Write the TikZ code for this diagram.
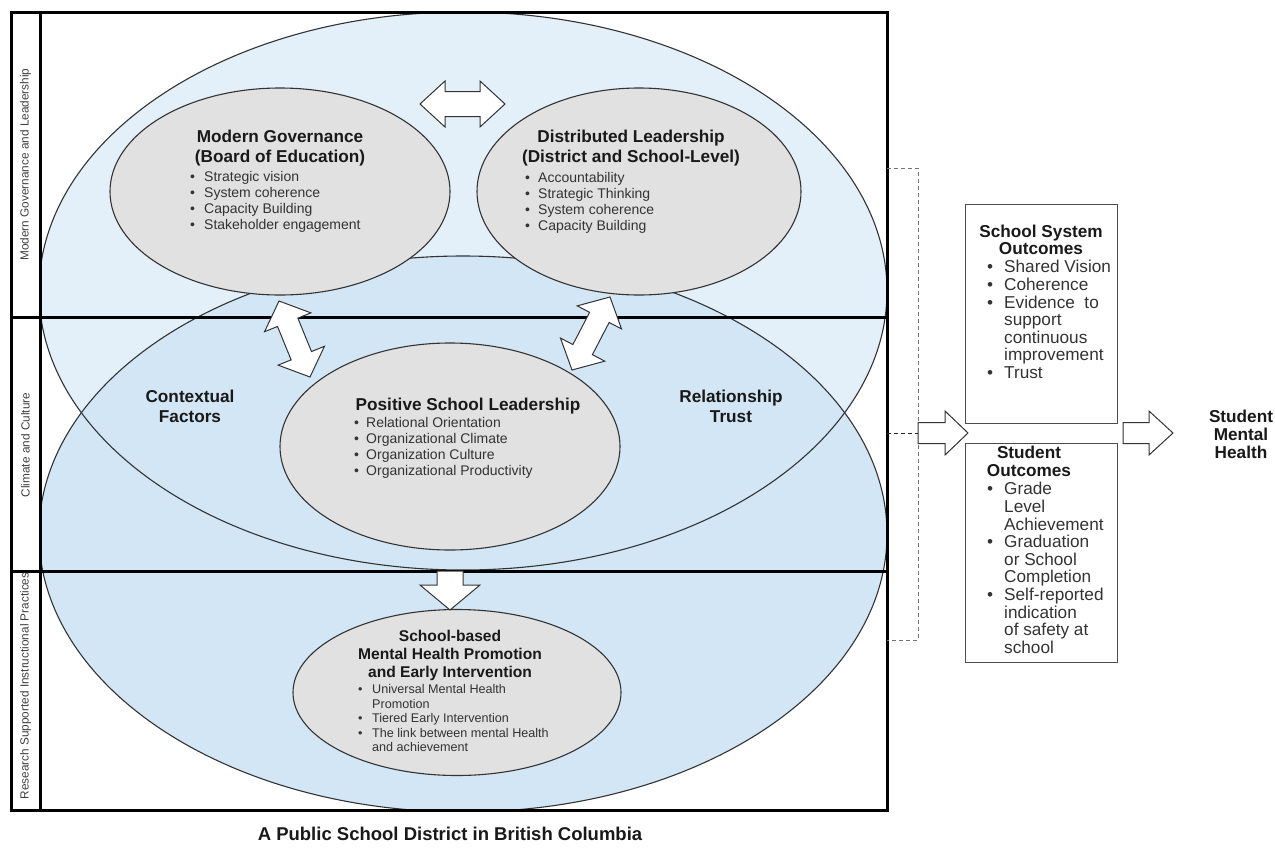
\documentclass[tikz,border=0pt]{standalone}
\usepackage{fontspec}
\setmainfont{Liberation Sans}
\usetikzlibrary{calc,shapes.geometric}
\definecolor{topblue}{HTML}{E3F0FA}
\definecolor{midblue}{HTML}{D3E6F5}
\definecolor{grayfill}{HTML}{E1E1E1}
\definecolor{edgegray}{HTML}{333333}
\definecolor{textgray}{HTML}{333333}
\newcommand\bi[1]{\makebox[#1][l]{\textbullet}}
\newcommand\dblarr[6]{%
 \coordinate (#1a) at (#2);
 \coordinate (#1b) at (#3);
 \coordinate (#1ha) at ($(#1a)!#4!(#1b)$);
 \coordinate (#1hb) at ($(#1b)!#4!(#1a)$);
 \draw[blockarrow] (#1a) -- ($(#1ha)!#6!90:(#1b)$) -- ($(#1ha)!#5!90:(#1b)$) -- ($(#1hb)!#5!-90:(#1a)$) -- ($(#1hb)!#6!-90:(#1a)$) -- (#1b) -- ($(#1hb)!#6!90:(#1a)$) -- ($(#1hb)!#5!90:(#1a)$) -- ($(#1ha)!#5!-90:(#1b)$) -- ($(#1ha)!#6!-90:(#1b)$) -- cycle;}
\newcommand\sglarr[6]{%
 \coordinate (#1a) at (#2);
 \coordinate (#1b) at (#3);
 \coordinate (#1hb) at ($(#1b)!#4!(#1a)$);
 \draw[blockarrow] ($(#1a)!#5!90:(#1b)$) -- ($(#1hb)!#5!-90:(#1a)$) -- ($(#1hb)!#6!-90:(#1a)$) -- (#1b) -- ($(#1hb)!#6!90:(#1a)$) -- ($(#1hb)!#5!90:(#1a)$) -- ($(#1a)!#5!-90:(#1b)$) -- cycle;}
\begin{document}
\begin{tikzpicture}[x=1pt,y=-1pt,
  bigedge/.style={draw=edgegray,line width=1.1pt},
  grayell/.style={ellipse,draw=edgegray,line width=1.1pt,fill=grayfill,inner sep=0pt},
  frameline/.style={line width=3pt,draw=black},
  blockarrow/.style={draw=edgegray,fill=white,line width=1pt,line join=miter},
  ttl/.style={font=\bfseries\fontsize{17.2}{20}\selectfont,align=center,inner sep=0pt,text=black!90},
  ttlb/.style={font=\bfseries\fontsize{17.2}{17.6}\selectfont,align=center,inner sep=0pt,text=black!90},
  bul/.style={font=\fontsize{14}{16}\selectfont,align=left,inner sep=0pt,text=textgray},
  bulsm/.style={font=\fontsize{12.6}{14.5}\selectfont,align=left,inner sep=0pt,text=textgray},
  bulbig/.style={font=\fontsize{17.2}{17.6}\selectfont,align=left,inner sep=0pt,text=textgray},
  sidelab/.style={font=\fontsize{11.8}{14}\selectfont,inner sep=0pt,text=black!75,rotate=90},
  outbox/.style={draw=black!70,line width=1pt,fill=white,inner sep=0pt},
  dashgray/.style={draw=black!55,dashed,dash pattern=on 4pt off 3pt,line width=0.8pt},
  dashdark/.style={draw=black!85,dashed,dash pattern=on 4pt off 3pt,line width=0.8pt}]
\useasboundingbox (0,0) rectangle (1275,852);
\fill[white] (0,0) rectangle (1275,852);
% large background ellipses
\begin{scope}
\clip (40,12) rectangle (887,810);
\fill[topblue] (463,291) ellipse [x radius=424pt, y radius=279pt];
\fill[midblue] (463,534) ellipse [x radius=424pt, y radius=278pt];
\draw[bigedge] (463,291) ellipse [x radius=424pt, y radius=279pt];
\draw[bigedge] (463,534) ellipse [x radius=424pt, y radius=278pt];
\end{scope}
% frame
\draw[frameline] (11,12) rectangle (887,810);
\draw[frameline] (40,12) -- (40,810);
\draw[frameline] (11,317) -- (887,317);
\draw[frameline] (11,571) -- (887,571);
% side labels
\node[sidelab] (lab1) at (25.5,164.5) {Modern Governance and Leadership};
\node[sidelab] (lab2) at (25.5,445) {Climate and Culture};
\node[sidelab] (lab3) at (25.5,686) {Research Supported Instructional Practices};
% gray ellipses
\node[grayell,minimum width=340pt,minimum height=207pt] (mg) at (280,191.5) {};
\node[grayell,minimum width=324pt,minimum height=207pt] (dl) at (639,191.5) {};
\node[grayell,minimum width=340pt,minimum height=207pt] (psl) at (450,446.5) {};
\node[grayell,minimum width=328pt,minimum height=166pt] (sb) at (457,692.5) {};
% texts in ellipses
\node[ttl] (mgt) at (280,148) {Modern Governance\\(Board of Education)};
\node[bul,anchor=west] (mgb) at (190,201.5) {\bi{14pt}Strategic vision\\\bi{14pt}System coherence\\\bi{14pt}Capacity Building\\\bi{14pt}Stakeholder engagement};
\node[ttl] (dlt) at (631,148) {Distributed Leadership\\(District and School-Level)};
\node[bul,anchor=west] (dlb) at (525,202.5) {\bi{13pt}Accountability\\\bi{13pt}Strategic Thinking\\\bi{13pt}System coherence\\\bi{13pt}Capacity Building};
\node[ttl] (pslt) at (468,406) {Positive School Leadership};
\node[bul,anchor=west] (pslb) at (354,448) {\bi{12pt}Relational Orientation\\\bi{12pt}Organizational Climate\\\bi{12pt}Organization Culture\\\bi{12pt}Organizational Productivity};
\node[font=\bfseries\fontsize{15.6}{18}\selectfont,align=center,inner sep=0pt,text=black!90] (sbt) at (450,655) {School-based\\Mental Health Promotion\\and Early Intervention};
\node[bulsm,anchor=west] (sbb) at (358,718) {\bi{14pt}Universal Mental Health\\\hspace*{14pt}Promotion\\\bi{14pt}Tiered Early Intervention\\\bi{14pt}The link between mental Health\\\hspace*{14pt}and achievement};
\node[ttl,font=\bfseries\fontsize{17.2}{19.5}\selectfont] (ctx) at (190,406.5) {Contextual\\Factors};
\node[ttl,font=\bfseries\fontsize{17.2}{19.5}\selectfont] (rt) at (731,406.5) {Relationship\\Trust};
% block arrows
\dblarr{ha}{420,104}{505,104}{25pt}{12.5pt}{23pt}
\dblarr{la}{279,301}{310,377}{23pt}{11pt}{25pt}
\dblarr{ra}{610,297}{572,370}{23pt}{11pt}{25pt}
\sglarr{da}{450,571}{450,610}{25pt}{13pt}{30pt}
% right side
\coordinate (brt) at (887,168);
\coordinate (brb) at (887,640);
\coordinate (brm) at (887,433);
\draw[dashgray] (brt) -- (918,168) -- (918,640) -- (brb);
\draw[dashdark] (brm) -- (918,433);
\node[outbox,minimum width=152pt,minimum height=219pt] (sys) at (1041,313.5) {};
\node[outbox,minimum width=152pt,minimum height=219pt] (stu) at (1041,552.5) {};
\sglarr{oa}{918,433}{968,433}{23pt}{10.5pt}{22pt}
\sglarr{sa}{1123,433}{1173,433}{24pt}{10.5pt}{22pt}
\node[ttlb] (syst) at (1041,240) {School System\\Outcomes};
\node[bulbig,anchor=west] (sysb) at (987,319.5) {\bi{17pt}Shared Vision\\\bi{17pt}Coherence\\\bi{17pt}Evidence\ \ to\\\hspace*{17pt}support\\\hspace*{17pt}continuous\\\hspace*{17pt}improvement\\\bi{17pt}Trust};
\node[ttlb] (stut) at (1029,461.5) {Student\\Outcomes};
\node[bulbig,anchor=west] (stub) at (987,568) {\bi{17pt}Grade\\\hspace*{17pt}Level\\\hspace*{17pt}Achievement\\\bi{17pt}Graduation\\\hspace*{17pt}or School\\\hspace*{17pt}Completion\\\bi{17pt}Self-reported\\\hspace*{17pt}indication\\\hspace*{17pt}of safety at\\\hspace*{17pt}school};
\node[ttlb] (smh) at (1241,434.3) {Student\\Mental\\Health};
% caption
\node[font=\bfseries\fontsize{18.5}{20}\selectfont,inner sep=0pt,text=black!90] (cap) at (450,834) {A Public School District in British Columbia};
\end{tikzpicture}
\end{document}
